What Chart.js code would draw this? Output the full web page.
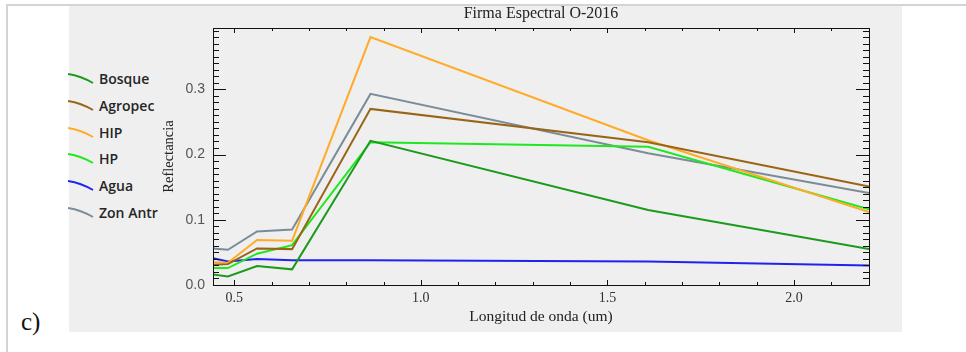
<!DOCTYPE html>
<html>
<head>
<meta charset="utf-8">
<script src="https://cdn.jsdelivr.net/npm/chart.js@4.4.1/dist/chart.umd.min.js"></script>
<style>
  html, body { margin: 0; padding: 0; background: #fff; }
  body { width: 966px; height: 352px; position: relative; overflow: hidden; }
  #frame { position: absolute; left: 6px; top: 4px; width: 970px; height: 360px;
           border-left: 2px solid #d4d4d4; border-top: 2px solid #d4d4d4; }
  #panel { position: absolute; left: 69px; top: 6px; width: 833px; height: 326px; background: #efefef; }
  #wrap { position: absolute; left: 116px; top: 0; width: 850px; height: 352px; }
  #legend { position: absolute; left: 68px; top: 69px; }
  .item { position: absolute; left: 0; height: 20px; width: 120px; }
  .item svg { position: absolute; left: 0; top: 0; }
  .item span { position: absolute; left: 31px; top: 0px; font: 600 14px "Open Sans", sans-serif; color: #252525; white-space: nowrap; }
  #tag { position: absolute; left: 21px; top: 308px; font: 25px "Liberation Serif", serif; color: #111; }
</style>
</head>
<body>
<div id="frame"></div>
<div id="panel"></div>
<div id="legend"></div>
<div id="tag">c)</div>
<div id="wrap"><canvas id="firma" width="850" height="352"></canvas></div>
<script>
// longitudes de onda (um), bandas Landsat 8
var wavelengths = [0.443, 0.483, 0.561, 0.655, 0.865, 1.609, 2.201];

var seriesNames = ['Bosque', 'Agropec', 'HIP', 'HP', 'Agua', 'Zon Antr'];
var seriesColors = ['#1c9a1c', '#9a6416', '#ffab28', '#1ee81e', '#2222f0', '#7a8c98'];

var bosque  = [0.016, 0.013, 0.029, 0.024, 0.221, 0.115, 0.055];
var agropec = [0.031, 0.032, 0.056, 0.055, 0.270, 0.219, 0.151];
var hip     = [0.035, 0.034, 0.069, 0.068, 0.380, 0.222, 0.112];
var hp      = [0.026, 0.026, 0.048, 0.061, 0.219, 0.212, 0.116];
var agua    = [0.041, 0.036, 0.040, 0.038, 0.038, 0.036, 0.030];
var zonAntr = [0.056, 0.054, 0.082, 0.085, 0.293, 0.202, 0.141];

var xTicks = [0.5, 1.0, 1.5, 2.0];
var yTicks = [0.0, 0.1, 0.2, 0.3];

var allSeries = [bosque, agropec, hip, hp, agua, zonAntr];

// leyenda a la izquierda
var legend = document.getElementById('legend');
for (var i = 0; i < seriesNames.length; i++) {
  var it = document.createElement('div');
  it.className = 'item';
  it.style.top = (i * 26.8) + 'px';
  it.innerHTML = '<svg width="28" height="20"><path d="M0 5 Q13 7 25 14" fill="none" stroke="' +
    seriesColors[i] + '" stroke-width="2"/></svg><span>' + seriesNames[i] + '</span>';
  legend.appendChild(it);
}

var datasets = [];
for (var i = 0; i < allSeries.length; i++) {
  datasets.push({
    label: seriesNames[i],
    data: wavelengths.map(function(w, j) { return {x: w, y: allSeries[i][j]}; }),
    borderColor: seriesColors[i],
    backgroundColor: seriesColors[i],
    borderWidth: 2,
    pointRadius: 0,
    tension: 0
  });
}

// marco negro con marcas hacia adentro
var frameTicks = {
  id: 'frameTicks',
  afterDatasetsDraw: function(chart) {
    var ctx = chart.ctx, a = chart.chartArea, x = chart.scales.x, y = chart.scales.y;
    ctx.save();
    ctx.strokeStyle = '#111';
    ctx.lineWidth = 1;
    ctx.strokeRect(Math.round(a.left) + 0.5, Math.round(a.top) + 0.5, Math.round(a.width), Math.round(a.height));
    ctx.beginPath();
    for (var k = 0; k <= 39; k++) {
      var py = Math.round(y.getPixelForValue(k / 100)) + 0.5;
      var len = k % 10 === 0 ? 13 : 6;
      ctx.moveTo(a.left, py); ctx.lineTo(a.left + len, py);
      ctx.moveTo(a.right, py); ctx.lineTo(a.right - len, py);
    }
    for (var k = 5; k <= 22; k++) {
      var px = Math.round(x.getPixelForValue(k / 10)) + 0.5;
      var l2 = k % 5 === 0 ? 5 : 3;
      ctx.moveTo(px, a.top); ctx.lineTo(px, a.top + l2);
      ctx.moveTo(px, a.bottom); ctx.lineTo(px, a.bottom - l2);
    }
    ctx.stroke();
    ctx.restore();
  }
};

new Chart(document.getElementById('firma'), {
  type: 'line',
  data: { datasets: datasets },
  plugins: [frameTicks],
  options: {
    responsive: false,
    animation: false,
    layout: { padding: 0 },
    plugins: {
      legend: { display: false },
      tooltip: { enabled: false },
      title: {
        display: true,
        text: 'Firma Espectral O-2016',
        color: '#222',
        font: { family: 'Liberation Serif', size: 16, weight: 'normal', lineHeight: 1.2 },
        padding: { top: 4, bottom: 4.8 }
      }
    },
    scales: {
      x: {
        type: 'linear',
        min: 0.443,
        max: 2.201,
        grid: { display: false, drawTicks: false },
        border: { display: false },
        afterBuildTicks: function(s) { s.ticks = xTicks.map(function(v) { return {value: v}; }); },
        afterFit: function(s) { s.height = 67; },
        ticks: {
          padding: 5,
          color: '#333',
          maxRotation: 0,
          font: { family: 'Liberation Serif', size: 14 },
          callback: function(v) { return Number(v).toFixed(1); }
        },
        title: {
          display: true,
          text: 'Longitud de onda (um)',
          color: '#222',
          font: { family: 'Liberation Serif', size: 15.5 },
          padding: { top: 0, bottom: 26 }
        }
      },
      y: {
        position: 'left',
        min: 0,
        max: 0.394,
        grid: { display: false, drawTicks: false },
        border: { display: false },
        afterBuildTicks: function(s) { s.ticks = yTicks.map(function(v) { return {value: v}; }); },
        afterFit: function(s) { s.width = 97; },
        ticks: {
          padding: 8,
          color: '#555',
          font: { family: 'Liberation Sans', size: 14 },
          callback: function(v) { return Number(v).toFixed(1); }
        },
        title: {
          display: true,
          text: 'Reflectancia',
          color: '#222',
          font: { family: 'Liberation Serif', size: 14.5 },
          padding: { top: 44, bottom: 0 }
        }
      },
      y2: {
        position: 'right',
        min: 0,
        max: 0.394,
        grid: { display: false, drawTicks: false },
        border: { display: false },
        ticks: { display: false },
        afterFit: function(s) { s.width = 97; }
      }
    }
  }
});
</script>
</body>
</html>
